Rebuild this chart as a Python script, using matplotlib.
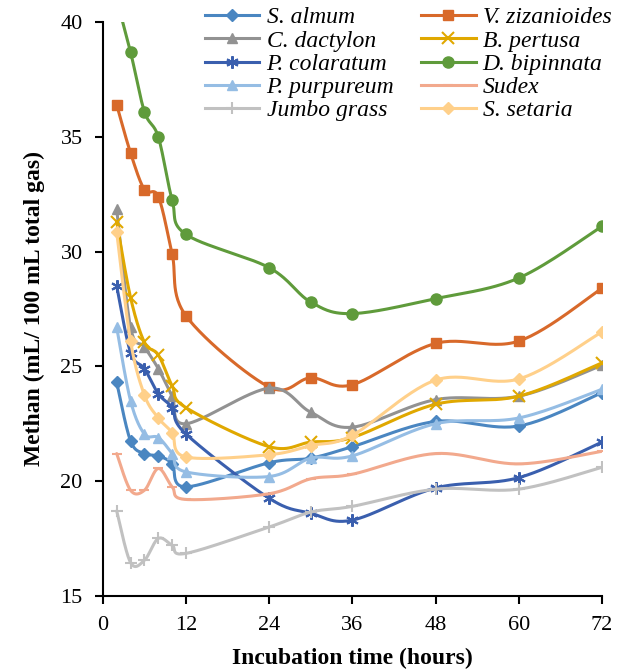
import numpy as np
import matplotlib.pyplot as plt
from matplotlib.lines import Line2D

plt.rcParams['font.family'] = ['Liberation Serif', 'DejaVu Serif']

hours = [2, 4, 6, 8, 10, 12, 24, 30, 36, 48, 60, 72]

s_almum = [24.3, 21.75, 21.2, 21.1, 20.75, 19.75, 20.8, 21.0, 21.5, 22.6, 22.4, 23.85]
v_zizanioides = [36.4, 34.3, 32.7, 32.4, 29.9, 27.2, 24.1, 24.5, 24.2, 26.0, 26.1, 28.4]
c_dactylon = [31.85, 26.7, 25.85, 24.9, 23.7, 22.5, 24.05, 23.0, 22.35, 23.55, 23.7, 25.05]
b_pertusa = [31.3, 28.0, 26.05, 25.5, 24.15, 23.2, 21.5, 21.7, 21.9, 23.35, 23.7, 25.15]
p_colaratum = [28.5, 25.6, 24.9, 23.8, 23.2, 22.05, 19.25, 18.6, 18.3, 19.7, 20.15, 21.7]
d_bipinnata = [41.0, 38.7, 36.1, 35.0, 32.25, 30.75, 29.3, 27.8, 27.3, 27.95, 28.85, 31.1]
p_purpureum = [26.7, 23.5, 22.05, 21.9, 21.2, 20.4, 20.2, 21.0, 21.1, 22.5, 22.75, 24.0]
sudex = [21.2, 19.6, 19.6, 20.55, 19.75, 19.2, 19.45, 20.1, 20.3, 21.2, 20.75, 21.3]
jumbo_grass = [18.7, 16.45, 16.55, 17.5, 17.2, 16.85, 18.0, 18.65, 18.9, 19.65, 19.65, 20.6]
s_setaria = [30.85, 26.1, 23.75, 22.75, 22.1, 21.05, 21.15, 21.55, 22.0, 24.4, 24.45, 26.5]

series = [
    ('S. almum', s_almum, '#4a86c1', 'D', 6),
    ('V. zizanioides', v_zizanioides, '#d8692a', 's', 7.5),
    ('C. dactylon', c_dactylon, '#929292', '^', 7.5),
    ('B. pertusa', b_pertusa, '#e0a800', 'x', 8),
    ('P. colaratum', p_colaratum, '#3a5fae', (6, 2, 0), 9),
    ('D. bipinnata', d_bipinnata, '#5f9b3b', 'o', 8),
    ('P. purpureum', p_purpureum, '#95bde4', '^', 7.5),
    ('Sudex', sudex, '#f2a98d', '_', 7),
    ('Jumbo grass', jumbo_grass, '#c1c1c1', '+', 8),
    ('S. setaria', s_setaria, '#ffd08a', 'D', 6),
]


def smooth(x, y, n=30):
    # Excel-like smoothed line (Catmull-Rom style bezier)
    pts = np.column_stack([x, y]).astype(float)
    pts = np.vstack([pts[0], pts, pts[-1]])
    out = []
    t = np.linspace(0, 1, n)[:, None]
    for i in range(1, len(pts) - 2):
        p0, p1, p2, p3 = pts[i - 1], pts[i], pts[i + 1], pts[i + 2]
        c1 = p1 + (p2 - p0) / 6
        c2 = p2 - (p3 - p1) / 6
        seg = ((1 - t) ** 3) * p1 + 3 * ((1 - t) ** 2) * t * c1 + 3 * (1 - t) * t ** 2 * c2 + t ** 3 * p2
        out.append(seg)
    out = np.vstack(out)
    return out[:, 0], out[:, 1]


fig = plt.figure(figsize=(6.27, 6.71), dpi=100)
ax = fig.add_axes([0.164, 0.112, 0.796, 0.855])

handles = []
for name, vals, color, marker, ms in series:
    sx, sy = smooth(hours, vals)
    ax.plot(sx, sy, color=color, lw=2.2, solid_capstyle='round')
    mew = 1.5 if marker in ('x', '+', '_', (6, 2, 0)) else 1
    ax.plot(hours, vals, linestyle='none', marker=marker, ms=ms, color=color, mew=mew)
    handles.append(Line2D([], [], color=color, lw=2.2, marker=marker, ms=ms, mew=mew, label=name))

ax.set_xlim(0, 72)
ax.set_ylim(15, 40)
ax.set_xticks(range(0, 73, 12))
ax.set_yticks(range(15, 41, 5))
ax.spines['top'].set_visible(False)
ax.spines['right'].set_visible(False)
ax.spines['left'].set_linewidth(1.5)
ax.spines['bottom'].set_linewidth(1.5)
ax.tick_params(direction='out', length=6, width=1.5, labelsize=16, pad=8.5)
ax.set_xlabel('Incubation time (hours)', fontsize=17, fontweight='bold', labelpad=9)
ax.set_ylabel('Methan (mL/ 100 mL total gas)', fontsize=17, fontweight='bold', labelpad=11)

order = [0, 2, 4, 6, 8, 1, 3, 5, 7, 9]
leg = ax.legend([handles[i] for i in order], [handles[i].get_label() for i in order],
                ncol=2, loc='upper left', bbox_to_anchor=(0.205, 1.0265), frameon=False,
                prop={'style': 'italic', 'size': 17}, handlelength=2.3, handletextpad=0.3,
                columnspacing=1.15, labelspacing=0.07, borderpad=0, borderaxespad=0)

fig.savefig('out.png', dpi=100)
